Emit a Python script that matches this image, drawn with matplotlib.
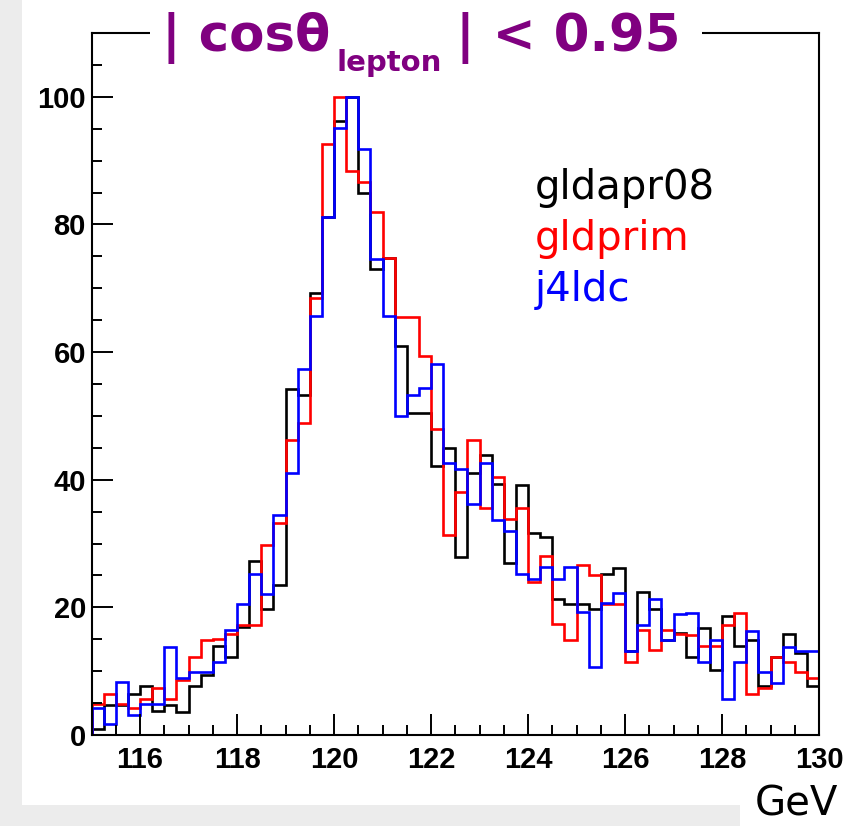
import numpy as np
import matplotlib
matplotlib.use("Agg")
import matplotlib.pyplot as plt
from matplotlib.patches import Rectangle
from matplotlib.ticker import MultipleLocator

W, H = 855, 826

# 60 bins of 0.25 GeV between 115 and 130 GeV
edges = np.linspace(115.0, 130.0, 61)

gldapr08 = [1.0, 4.7, 4.7, 6.4, 7.6, 3.8, 4.7, 3.6, 7.6, 9.4,
            14.0, 12.3, 16.9, 27.2, 19.7, 23.5, 54.2, 53.3, 69.2, 81.2,
            96.2, 100.0, 85.0, 73.0, 74.8, 60.9, 50.4, 50.4, 42.2, 44.9,
            27.9, 41.1, 43.9, 39.3, 27.0, 39.2, 31.7, 31.0, 21.3, 20.5,
            20.5, 19.7, 25.2, 26.2, 13.1, 22.4, 19.7, 14.9, 16.0, 12.3,
            16.7, 10.2, 18.7, 14.0, 14.9, 7.7, 12.3, 15.8, 12.8, 7.6]

gldprim = [4.9, 6.5, 4.9, 4.2, 5.7, 7.4, 5.7, 8.6, 12.3, 14.9,
           15.0, 15.9, 17.2, 17.2, 29.8, 33.2, 46.2, 48.9, 68.5, 92.6,
           100.0, 88.4, 86.7, 81.9, 74.8, 65.5, 65.5, 59.4, 47.9, 31.3,
           38.0, 46.2, 35.5, 40.5, 33.9, 35.5, 24.0, 28.1, 17.4, 14.9,
           26.6, 25.1, 20.6, 20.6, 11.5, 16.5, 13.3, 16.5, 15.9, 15.7,
           14.0, 14.0, 17.2, 19.1, 6.5, 7.4, 12.3, 11.5, 9.9, 9.0]

j4ldc = [4.2, 1.7, 8.3, 3.2, 4.9, 4.9, 13.8, 8.9, 9.9, 9.9,
         11.5, 16.5, 20.5, 25.3, 22.1, 34.5, 41.1, 57.4, 65.7, 81.2,
         95.1, 100.0, 91.8, 74.6, 65.7, 50.0, 53.3, 54.3, 58.2, 42.6,
         41.7, 36.2, 42.6, 33.7, 32.0, 25.3, 24.5, 26.4, 24.5, 26.4,
         19.3, 10.7, 20.7, 22.2, 13.1, 17.2, 21.3, 14.9, 19.0, 19.1,
         11.5, 14.9, 5.7, 11.4, 16.3, 9.9, 8.1, 13.8, 13.1, 13.1]

names = ["gldapr08", "gldprim", "j4ldc"]
colors = ["black", "#ff0000", "#0000ff"]
xticks_major = 2
xticks_minor = 0.5
yticks_major = 20
yticks_minor = 5


def px(x, y):
    """pixel position (from top-left) -> figure fraction"""
    return x / W, 1 - y / H


def main():
    fig = plt.figure(figsize=(W / 100, H / 100), dpi=100, facecolor="#ececec")

    # white page over the grey border
    fig.patches.append(Rectangle((22 / W, 1 - 805 / H), 1, 805 / H,
                                 transform=fig.transFigure, facecolor="white",
                                 edgecolor="none", zorder=-5))
    fig.patches.append(Rectangle((740 / W, 0), 1, 60 / H,
                                 transform=fig.transFigure, facecolor="white",
                                 edgecolor="none", zorder=-5))

    ax = fig.add_axes([91.5 / W, 1 - 735 / H, (819 - 91.5) / W, (735 - 33) / H])
    for vals, c in zip([gldapr08, gldprim, j4ldc], colors):
        ax.stairs(vals, edges, color=c, lw=1.9)

    ax.set_xlim(115, 130)
    ax.set_ylim(0, 110)
    ax.xaxis.set_major_locator(MultipleLocator(xticks_major))
    ax.xaxis.set_minor_locator(MultipleLocator(xticks_minor))
    ax.yaxis.set_major_locator(MultipleLocator(yticks_major))
    ax.yaxis.set_minor_locator(MultipleLocator(yticks_minor))
    ax.set_yticks([0, 20, 40, 60, 80, 100])
    ax.tick_params(which="both", direction="in", top=False, right=False,
                   width=1.4, color="black")
    ax.tick_params(which="major", length=15)
    ax.tick_params(which="minor", length=7.5)
    ax.tick_params(axis="x", which="major", pad=8)
    ax.tick_params(axis="y", which="major", pad=4)
    for lab in ax.get_xticklabels() + ax.get_yticklabels():
        lab.set_fontfamily("Liberation Sans")
        lab.set_fontweight("bold")
        lab.set_fontsize(21)
    for sp in ax.spines.values():
        sp.set_linewidth(1.5)

    # legend text
    for i, (n, c) in enumerate(zip(names, colors)):
        x, y = px(535, 199 + 51 * i)
        fig.text(x, y, n, color=c, fontsize=29, family="DejaVu Sans",
                 va="baseline", ha="left")

    x, y = px(755, 815)
    fig.text(x, y, "GeV", color="black", fontsize=29, family="DejaVu Sans",
             va="baseline", ha="left")

    # title sitting over the top frame line
    purple = "#800080"
    fig.patches.append(Rectangle((150 / W, 1 - 44 / H), 552 / W, 22 / H,
                                 transform=fig.transFigure, facecolor="white",
                                 edgecolor="none", zorder=1))
    parts = [("| cos\u03b8", 37, 0, 0), ("lepton", 21, 20, 6), ("| < 0.95", 37, 0, 14)]
    texts = []
    for s, size, drop, gap in parts:
        t = fig.text(0, 0, s, color=purple, fontsize=size, family="DejaVu Sans",
                     fontweight="bold", va="baseline", ha="left", zorder=2)
        texts.append((t, drop, gap))
    fig.canvas.draw()
    r = fig.canvas.get_renderer()
    widths = [t.get_window_extent(r).width for t, _, _ in texts]
    total = sum(widths) + sum(g for _, _, g in texts)
    x0 = 421 - total / 2
    for (t, drop, gap), w in zip(texts, widths):
        x0 += gap
        t.set_position(px(x0, 51 + drop))
        x0 += w

    fig.savefig("out.png", dpi=100, facecolor=fig.get_facecolor())


if __name__ == "__main__":
    main()
